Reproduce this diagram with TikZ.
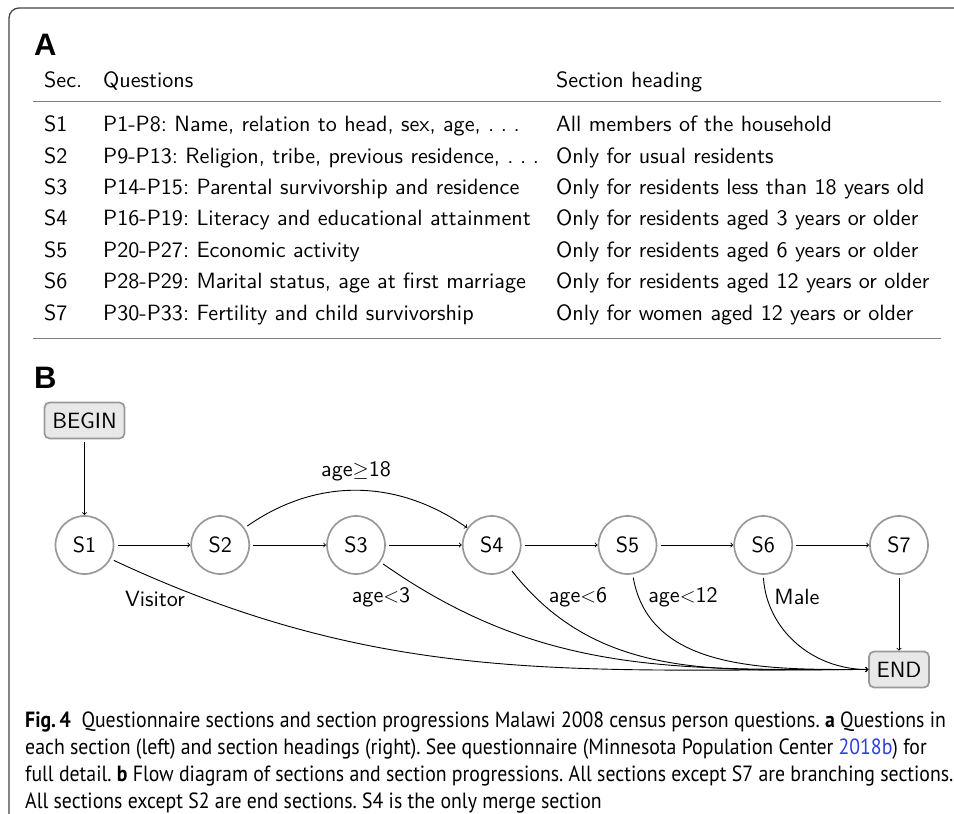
\documentclass[tikz,border=0pt]{standalone}
\usepackage{fontspec}
\newfontfamily\labfont{Liberation Sans}
\newfontfamily\capfont[FakeStretch=0.9]{PT Sans}
\newfontfamily\tabfont[Extension=.otf]{lmsans10-regular}
\definecolor{framec}{HTML}{444444}
\definecolor{rulec}{HTML}{808080}
\definecolor{nodec}{HTML}{999999}
\definecolor{boxfill}{HTML}{E8E8E8}
\definecolor{linkc}{HTML}{2B3FD9}
\newcommand{\mydots}{.\kern0.3em.\kern0.3em.}
\tikzset{
  tabtxt/.style={anchor=base west, inner sep=0pt, font=\tabfont\fontsize{22.1}{24}\selectfont},
  panel/.style={anchor=base west, inner sep=0pt, font=\labfont\bfseries\fontsize{31}{34}\selectfont},
  secnode/.style={circle, draw=nodec, line width=1.7pt, minimum size=58pt, inner sep=0pt, outer sep=1pt, font=\tabfont\fontsize{22.1}{24}\selectfont},
  termnode/.style={rectangle, rounded corners=5pt, draw=nodec, fill=boxfill, line width=1.7pt, minimum height=36pt, inner xsep=4pt, font=\tabfont\fontsize{22.1}{24}\selectfont},
  flow/.style={->, line width=0.9pt, shorten <=3pt},
  elab/.style={inner sep=0pt, font=\tabfont\fontsize{22.1}{24}\selectfont},
  captxt/.style={anchor=base west, inner sep=0pt, font=\capfont\fontsize{22}{27}\selectfont}
}
\begin{document}
\begin{tikzpicture}[x=1pt,y=-1pt]
\frenchspacing
\useasboundingbox (0,0) rectangle (954,814);
% frame
\draw[framec, line width=1.3pt, rounded corners=10pt] (955,8) -- (9,8) -- (9,815);
% panel A
\node[panel] (pa) at (34,55) {A};
\node[tabtxt] (h1) at (44,87) {Sec.};
\node[tabtxt] (h2) at (103,87) {Questions};
\node[tabtxt] (h3) at (556,87) {Section heading};
\draw[rulec, line width=1.5pt] (33,101.5) -- (941,101.5);
\foreach \s/\q/\h [count=\i from 0] in {
 S1/{P1-P8: Name, relation to head, sex, age, \mydots}/{All members of the household},
 S2/{P9-P13: Religion, tribe, previous residence, \mydots}/{Only for usual residents},
 S3/{P14-P15: Parental survivorship and residence}/{Only for residents less than 18 years old},
 S4/{P16-P19: Literacy and educational attainment}/{Only for residents aged 3 years or older},
 S5/{P20-P27: Economic activity}/{Only for residents aged 6 years or older},
 S6/{P28-P29: Marital status, age at first marriage}/{Only for residents aged 12 years or older},
 S7/{P30-P33: Fertility and child survivorship}/{Only for women aged 12 years or older}}{
  \node[tabtxt] (r\i a) at (44,131.7+31.4*\i) {\s};
  \node[tabtxt] (r\i b) at (103,131.7+31.4*\i) {\q};
  \node[tabtxt] (r\i c) at (556,131.7+31.4*\i) {\h};
}
\draw[rulec, line width=1.5pt] (33,338.5) -- (941,338.5);
% panel B
\node[panel] (pb) at (34,388) {B};
\node[termnode, minimum width=80pt] (begin) at (84.5,420.5) {BEGIN};
\node[secnode] (s1) at (84.5,545) {S1};
\node[secnode] (s2) at (220.2,545) {S2};
\node[secnode] (s3) at (356,545) {S3};
\node[secnode] (s4) at (491.7,545) {S4};
\node[secnode] (s5) at (627.5,545) {S5};
\node[secnode] (s6) at (763.2,545) {S6};
\node[secnode] (s7) at (899,545) {S7};
\node[termnode, minimum width=60pt] (end) at (899,669.5) {END};
\draw[flow] (begin) -- (s1);
\draw[flow] (s1) -- (s2);
\draw[flow] (s2) -- (s3);
\draw[flow] (s3) -- (s4);
\draw[flow] (s4) -- (s5);
\draw[flow] (s5) -- (s6);
\draw[flow] (s6) -- (s7);
\draw[flow] (s7) -- (end);
\draw[flow] (s2) to[out=35,in=145] (s4);
\node[elab] (l18) at (356,471) {age$\geq$18};
\draw[flow] (s1.-28) to[out=-25,in=180] (end.west);
\draw[flow] (s3.-35) to[out=-35,in=180] (end.west);
\draw[flow] (s4.-52) to[out=-52,in=180] (end.west);
\draw[flow] (s5.-80) to[out=-80,in=180] (end.west);
\draw[flow] (s6.-90) to[out=-86,in=180] (end.west);
\node[elab] (lv) at (155,599) {Visitor};
\node[elab] (l3) at (381,597) {age$<$3};
\node[elab] (l6) at (578,597) {age$<$6};
\node[elab] (l12) at (683,597) {age$<$12};
\node[elab] (lm) at (797,597) {Male};
% caption
\node[captxt] (c1) at (25,727) {\textbf{Fig.\,4}\ \ Questionnaire sections and section progressions Malawi 2008 census person questions. \textbf{a} Questions in};
\node[captxt] (c2) at (25,754) {each section (left) and section headings (right). See questionnaire (Minnesota Population Center \textcolor{linkc}{2018b}) for};
\node[captxt] (c3) at (25,781) {full detail. \textbf{b} Flow diagram of sections and section progressions. All sections except S7 are branching sections.};
\node[captxt] (c4) at (25,808) {All sections except S2 are end sections. S4 is the only merge section};
\end{tikzpicture}
\end{document}
